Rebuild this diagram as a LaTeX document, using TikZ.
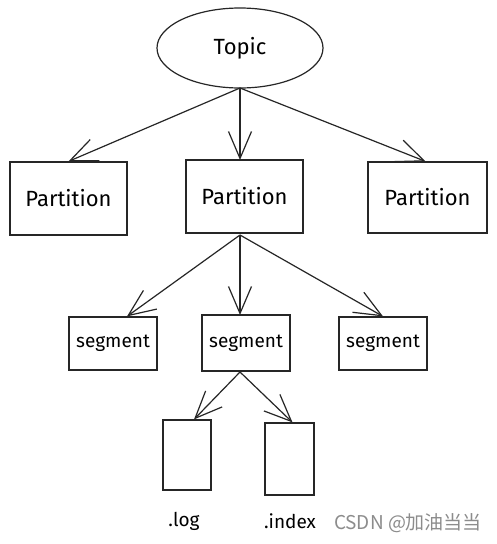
\documentclass[tikz,border=0pt]{standalone}
\usepackage{fontspec}
\setmainfont{Fira Sans}
\newfontfamily\cjk{Noto Sans CJK SC}
\usetikzlibrary{arrows.meta,shapes.geometric}
\tikzset{
  box/.style={draw=black!85, line width=1.2pt, rectangle, inner sep=0pt, font=\fontsize{22}{24}\selectfont},
  segbox/.style={box, font=\fontsize{19}{21}\selectfont},
  oval/.style={draw=black!85, line width=1.2pt, ellipse, inner sep=0pt, font=\fontsize{22}{24}\selectfont},
  arr/.style={draw=black!85, line width=1.2pt, -{Straight Barb[length=27pt,width=23pt,line width=1.2pt]}},
  lbl/.style={font=\fontsize{19}{21}\selectfont, inner sep=0pt}
}
\begin{document}
\begin{tikzpicture}[x=1pt,y=-1pt]
\useasboundingbox[fill=white] (0,0) rectangle (496,544);
\node[oval, minimum width=166pt, minimum height=80pt] (topic) at (240,48) {Topic};
\node[box, minimum width=117pt, minimum height=73pt] (p1) at (68.5,198.5) {Partition};
\node[box, minimum width=117pt, minimum height=73pt] (p2) at (244.5,196.5) {Partition};
\node[box, minimum width=119pt, minimum height=71pt] (p3) at (427.5,197.5) {Partition};
\node[segbox, minimum width=88pt, minimum height=53pt] (s1) at (113,343.5) {segment};
\node[segbox, minimum width=88pt, minimum height=56pt] (s2) at (246,343) {segment};
\node[segbox, minimum width=88pt, minimum height=53pt] (s3) at (383,343.5) {segment};
\node[box, minimum width=48pt, minimum height=70pt] (log) at (187,455) {};
\node[box, minimum width=49pt, minimum height=72pt] (idx) at (289.5,459) {};
\node[lbl] (loglbl) at (184,521) {.log};
\node[lbl] (idxlbl) at (290,521) {.index};
\node[font=\cjk\fontsize{19}{21}\selectfont, text=black!45, inner sep=0pt] (wm) at (408,523) {CSDN @加油当当};
\coordinate (t0) at (240,88);
\coordinate (p0) at (240,235);
\coordinate (s0) at (240,372);
\draw[arr] (t0) -- (p1.north);
\draw[arr] (t0) -- (240,160);
\draw[arr] (t0) -- ([xshift=-2pt]p3.north);
\draw[arr] (p0) -- ([xshift=14pt]s1.north);
\draw[arr] (p0) -- (240,315);
\draw[arr] (p0) -- (s3.north);
\draw[arr] (s0) -- ([xshift=7pt]log.north);
\draw[arr] (s0) -- ([xshift=3pt]idx.north);
\end{tikzpicture}
\end{document}
